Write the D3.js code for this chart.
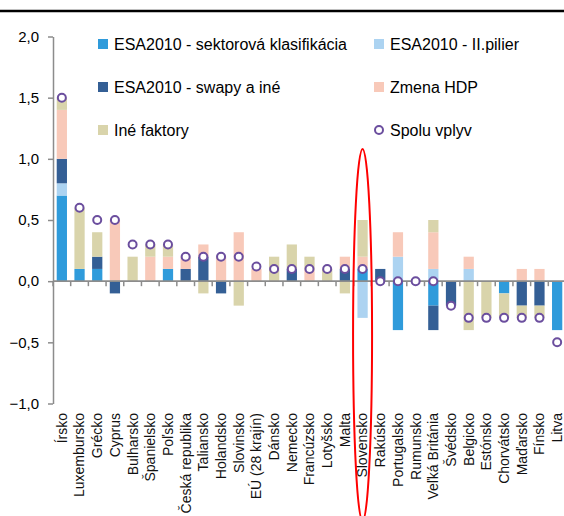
<!DOCTYPE html>
<html>
<head>
<meta charset="utf-8">
<script src="https://cdn.jsdelivr.net/npm/d3@7/dist/d3.min.js"></script>
<style>
  html, body { margin: 0; padding: 0; background: #fff; }
  svg { display: block; }
  text { font-family: "Liberation Sans", Arial, sans-serif; }
</style>
</head>
<body>
<svg id="chart" width="564" height="516"></svg>
<script>
// ---- Data ----
const categories = ["Írsko","Luxembursko","Grécko","Cyprus","Bulharsko","Španielsko","Poľsko","Česká republika","Taliansko","Holandsko","Slovinsko","EÚ (28 krajín)","Dánsko","Nemecko","Francúzsko","Lotyšsko","Malta","Slovensko","Rakúsko","Portugalsko","Rumunsko","Veľká Británia","Švédsko","Belgicko","Estónsko","Chorvátsko","Maďarsko","Fínsko","Litva"];
const sektorova = [0.7,0.1,0.1,0,0,0,0.1,0,0,0,0,0,0,0,0,0,0,0.1,0,-0.4,0,-0.2,0,0,0,-0.1,0,0,-0.4];
const pilier    = [0.1,0,0,0,0,0,0,0,0,0,0,0,0,0,0,0,0,-0.3,0,0.2,0,0.1,0,0.1,0,0,0,0,0];
const swapy     = [0.2,0,0.1,-0.1,0,0,0,0.1,0.2,-0.1,0,0,0,0.1,0,0,0.1,0,0.1,0,0,-0.2,-0.2,0,0,0,-0.2,-0.2,0];
const zmenaHDP  = [0.4,0,0,0.5,0,0.2,0.1,0.1,0.1,0.2,0.4,0.1,0,0,0.1,0,0.1,0.1,0,0.2,0,0.3,0,0.1,0,0,0.1,0.1,0];
const ineFaktory= [0.1,0.5,0.2,0,0.2,0.1,0.1,0,-0.1,0,-0.2,0,0.2,0.2,0.1,0.1,-0.1,0.3,0,0,0,0.1,0,-0.4,-0.3,-0.2,-0.1,-0.1,0];
const spolu     = [1.5,0.6,0.5,0.5,0.3,0.3,0.3,0.2,0.2,0.2,0.2,0.12,0.1,0.1,0.1,0.1,0.1,0.1,0,0,0,0,-0.2,-0.3,-0.3,-0.3,-0.3,-0.3,-0.5];
const yTicks = [-1,-0.5,0,0.5,1,1.5,2];
const seriesNames = ["ESA2010 - sektorová klasifikácia","ESA2010 - II.pilier","ESA2010 - swapy a iné","Zmena HDP","Iné faktory"];
const seriesColors = ["#2f9bdb","#acd3f1","#345f95","#f8c9b9","#d9d4ab"];
const spoluName = "Spolu vplyv";
const highlighted = "Slovensko";

// ---- Build table ----
const keys = ["s0","s1","s2","s3","s4"];
const series = [sektorova, pilier, swapy, zmenaHDP, ineFaktory];
const table = categories.map((c,i) => {
  const row = {cat: c, total: spolu[i]};
  keys.forEach((k,j) => row[k] = series[j][i]);
  return row;
});

const svg = d3.select("#chart");

const x = d3.scaleBand().domain(categories).range([53, 566]).paddingInner(0.42).paddingOuter(0.21);
const y = d3.scaleLinear().domain([-1, 2]).range([403.5, 36.5]);

// top rule
svg.append("line").attr("x1",0).attr("x2",564).attr("y1",11).attr("y2",11)
  .attr("stroke","#000").attr("stroke-width",2.5);

// stacked bars
const stacked = d3.stack().keys(keys).offset(d3.stackOffsetDiverging)(table);
svg.append("g").selectAll("g").data(stacked).join("g")
  .attr("fill",(d,i)=>seriesColors[i])
  .selectAll("rect").data(d=>d).join("rect")
  .attr("x", d=>x(d.data.cat))
  .attr("width", x.bandwidth())
  .attr("y", d=>y(Math.max(d[0],d[1])))
  .attr("height", d=>Math.abs(y(d[0])-y(d[1])));

// y axis
const fmt = v => d3.format(".1f")(v).replace(".", ",");
const yAxis = svg.append("g").attr("transform","translate(53,0)")
  .call(d3.axisLeft(y).tickValues(yTicks).tickFormat(fmt).tickSize(5).tickSizeOuter(0).tickPadding(9));
yAxis.select(".domain").attr("stroke","#8c8c8c").attr("stroke-width",1.5);
yAxis.selectAll(".tick line").attr("stroke","#8c8c8c").attr("stroke-width",1.5);
yAxis.selectAll(".tick text").attr("font-size",15).attr("fill","#000")
  .style("font-family","'Liberation Sans', Arial, sans-serif");

// x axis at zero
const y0 = y(0);
const gx = svg.append("g");
gx.append("line").attr("x1",53).attr("x2",566).attr("y1",y0).attr("y2",y0)
  .attr("stroke","#8c8c8c").attr("stroke-width",1.8);
const bounds = d3.range(categories.length + 1).map(i => x.range()[0] + i * x.step());
gx.selectAll("line.tk").data(bounds).join("line").attr("class","tk")
  .attr("x1",d=>d).attr("x2",d=>d).attr("y1",y0).attr("y2",y0+5)
  .attr("stroke","#8c8c8c").attr("stroke-width",1.5);

// category labels (low position)
svg.append("g").selectAll("text").data(categories).join("text")
  .attr("transform", d => `translate(${x(d)+x.bandwidth()/2},413) rotate(-90)`)
  .attr("dy","0.35em")
  .attr("text-anchor","end")
  .attr("font-size",14)
  .attr("fill","#111")
  .text(d=>d);

// total markers
svg.append("g").selectAll("circle").data(table).join("circle")
  .attr("cx", d=>x(d.cat)+x.bandwidth()/2)
  .attr("cy", d=>y(d.total))
  .attr("r", 4)
  .attr("fill","#fff").attr("stroke","#6b4e9e").attr("stroke-width",2);

// legend
const legendItems = [
  {name: seriesNames[0], color: seriesColors[0], col:0, row:0},
  {name: seriesNames[1], color: seriesColors[1], col:1, row:0},
  {name: seriesNames[2], color: seriesColors[2], col:0, row:1},
  {name: seriesNames[3], color: seriesColors[3], col:1, row:1},
  {name: seriesNames[4], color: seriesColors[4], col:0, row:2},
  {name: spoluName, color: null, col:1, row:2}
];
const colX = [98, 374], rowY = [44, 87, 130];
const lg = svg.append("g").selectAll("g").data(legendItems).join("g")
  .attr("transform", d=>`translate(${colX[d.col]},${rowY[d.row]})`);
lg.filter(d=>d.color).append("rect").attr("x",0).attr("y",-5).attr("width",10).attr("height",10)
  .attr("fill",d=>d.color);
lg.filter(d=>!d.color).append("circle").attr("cx",5).attr("cy",0).attr("r",4)
  .attr("fill","#fff").attr("stroke","#6b4e9e").attr("stroke-width",2);
lg.append("text").attr("x",16).attr("dy","0.35em").attr("font-size",16).attr("fill","#000")
  .text(d=>d.name);

// highlight ellipse around Slovensko
svg.append("ellipse")
  .attr("cx", x(highlighted)+x.bandwidth()/2)
  .attr("cy", 335).attr("rx", 9.5).attr("ry", 186)
  .attr("fill","none").attr("stroke","#ff0000").attr("stroke-width",2);
</script>
</body>
</html>
